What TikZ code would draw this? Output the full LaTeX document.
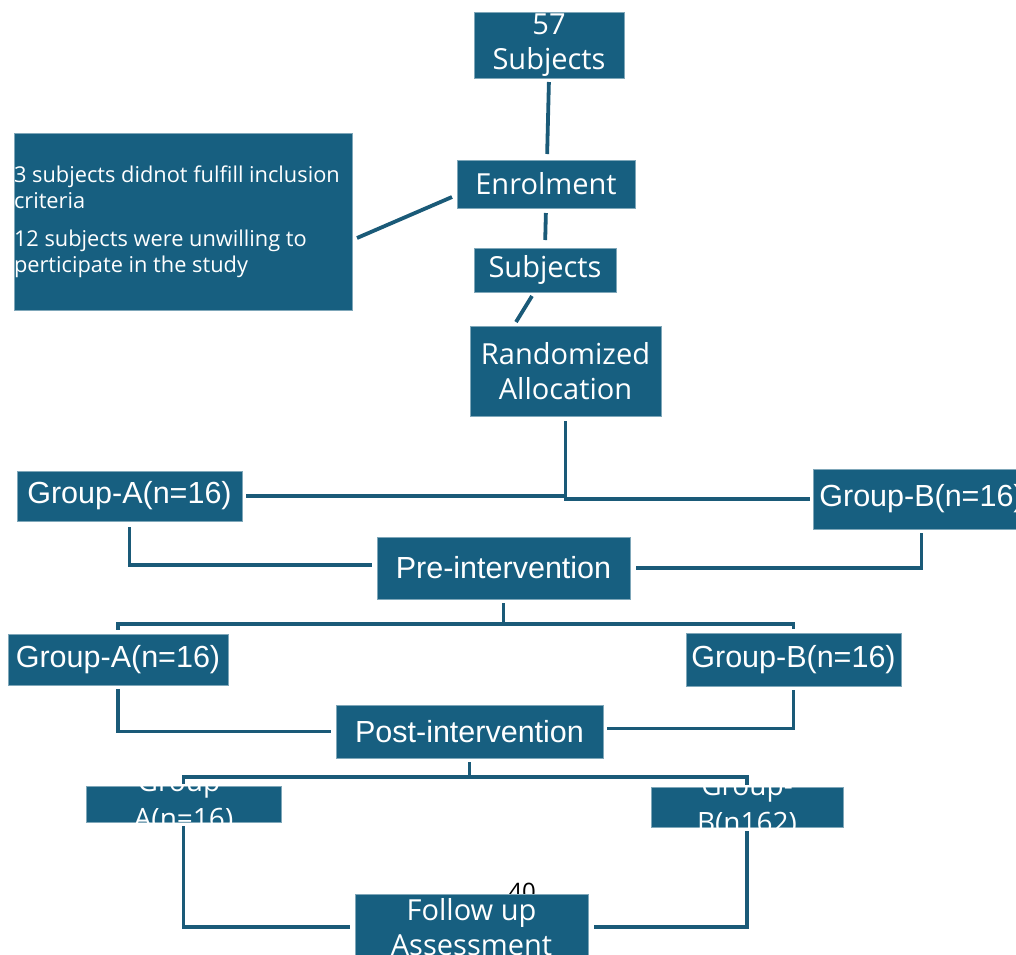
\documentclass[tikz,border=0pt]{standalone}
\usepackage{fontspec}
\setmainfont{Open Sans}
\newfontfamily\narrowf{Liberation Sans}
\usetikzlibrary{calc}
\definecolor{boxblue}{HTML}{175F80}
\definecolor{lineblue}{HTML}{1A5A78}
\tikzset{
  box/.style={fill=boxblue, draw=boxblue!55!white, line width=0.6pt, inner sep=0pt, outer sep=0pt,
    text=white, align=center, font=\fontsize{29}{35}\selectfont},
  narrowbox/.style={box, font=\narrowf\fontsize{30.5}{36}\selectfont},
  conn/.style={draw=lineblue, line width=3.8pt},
  cliptext/.style={text=white, align=center, inner sep=0pt, font=\fontsize{28}{37}\selectfont}
}
\begin{document}
\begin{tikzpicture}[x=1pt,y=-1pt]
\useasboundingbox (0,0) rectangle (1016,954);
% nodes
\node[box, minimum width=150, minimum height=66] (s57) at (549,45) {57\\Subjects};
\node[box, minimum width=178, minimum height=48] (enr) at (546,184) {Enrolment};
\node[box, minimum width=142, minimum height=44] (sub) at (545,270) {Subjects};
\node[box, minimum width=191, minimum height=90] (ra) at (565.5,371) {Randomized\\Allocation};
\node[box, minimum width=338, minimum height=177, align=left,
  font=\fontsize{21.8}{26}\selectfont] (excl) at (183,221.5)
  {\makebox[338pt][l]{\parbox{338pt}{3 subjects didnot fulfill inclusion\\criteria\\[12pt]12 subjects were unwilling to\\perticipate in the study}}};
\node[narrowbox, minimum width=225, minimum height=50] (ga1) at (129.5,496) {Group-A(n=16)};
\node[narrowbox, minimum width=217, minimum height=60] (gb1) at (921.5,499) {Group-B(n=16)};
\node[narrowbox, minimum width=253, minimum height=62] (pre) at (503.5,568) {Pre-intervention};
\node[narrowbox, minimum width=220, minimum height=51] (ga2) at (118,659.5) {Group-A(n=16)};
\node[narrowbox, minimum width=215, minimum height=53] (gb2) at (793.5,659.5) {Group-B(n=16)};
\node[narrowbox, minimum width=267, minimum height=53] (post) at (469.5,731.5) {Post-intervention};
\node[box, minimum width=195, minimum height=36] (ga3) at (183.5,804) {};
\node[box, minimum width=192, minimum height=40] (gb3) at (747,807) {};
\begin{scope}
  \clip (ga3.north west) rectangle (ga3.south east);
  \node[cliptext] (ga3t) at ($(ga3.center)+(0,-2)$) {Group-\\A(n=16)};
\end{scope}
\begin{scope}
  \clip (gb3.north west) rectangle (gb3.south east);
  \node[cliptext] (gb3t) at ($(gb3.center)+(0,-1)$) {Group-\\B(n162)};
\end{scope}
\node[font=\fontsize{24}{24}\selectfont, text=black, inner sep=0pt] (pg) at (522,892) {40};
\node[box, minimum width=233, minimum height=66] (fu) at (471.5,927) {Follow up\\Assessment};
% connectors
\draw[conn, shorten <=4pt, shorten >=6pt] (s57.south) -- ($(enr.north)+(1,0)$);
\draw[conn] ($(enr.west)+(-5,13)$) -- ($(excl.east)+(5,16.5)$);
\draw[conn, shorten <=5pt, shorten >=8pt] (enr.south) -- (sub.north);
\draw[conn] ($(sub.south)+(-13,4)$) -- ($(ra.north)+(-49.5,-4)$);
\draw[conn, shorten <=5pt, shorten >=3pt] (ra.south) |- (gb1.west);
\draw[conn, shorten <=4pt] (ga1.east) -- (ga1.east -| ra.south);
\draw[conn, shorten <=6pt, shorten >=5pt] (ga1.south) |- ($(pre.west)+(0,-3)$);
\draw[conn, shorten <=4pt, shorten >=6pt] (gb1.south) |- (pre.east);
\coordinate (j1) at ($(pre.south)+(0,25)$);
\draw[conn, shorten <=4pt] (pre.south) -- (j1);
\draw[conn, shorten >=4pt] (j1) -| (ga2.north);
\draw[conn, shorten >=4pt] (j1) -| (gb2.north);
\draw[conn, shorten <=4pt, shorten >=5pt] (ga2.south) |- (post.west);
\draw[conn, shorten <=4pt, shorten >=4pt] (gb2.south) |- ($(post.east)+(0,-3)$);
\coordinate (j2) at ($(post.south)+(0,19)$);
\draw[conn, shorten <=4pt] (post.south) -- (j2);
\draw[conn, shorten >=2pt] (j2) -| (ga3.north);
\draw[conn, shorten >=2pt] (j2) -| (gb3.north);
\draw[conn, shorten <=4pt, shorten >=5pt] (ga3.south) |- (fu.west);
\draw[conn, shorten <=4pt, shorten >=6pt] (gb3.south) |- (fu.east);
\end{tikzpicture}
\end{document}
